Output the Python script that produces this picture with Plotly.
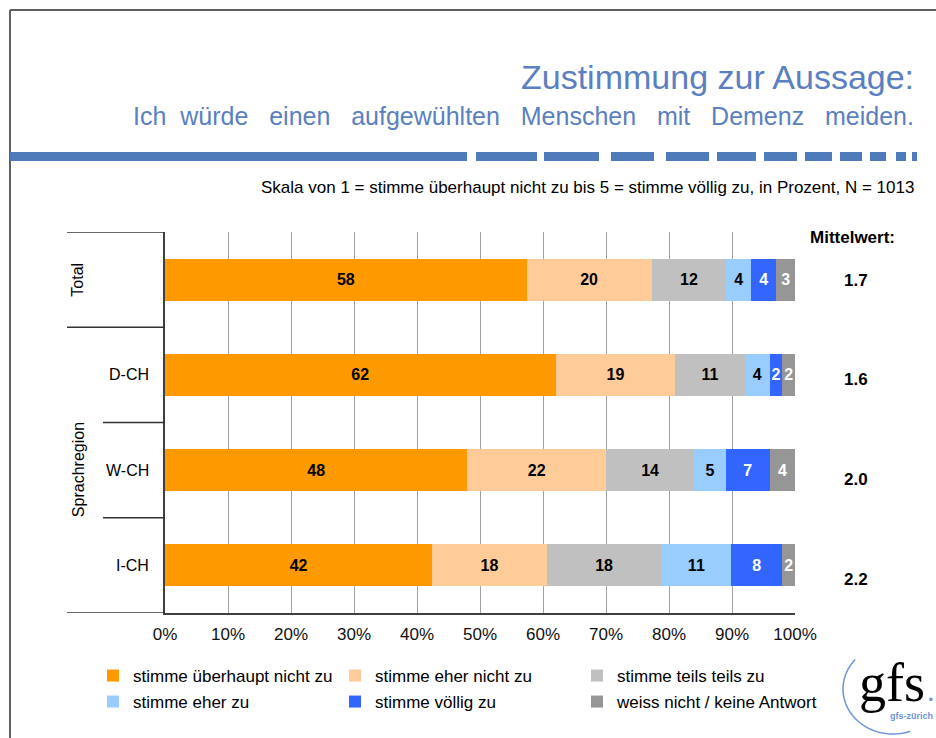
import math
import plotly.graph_objects as go

# ---------------- data ----------------
categories = ["Total", "D-CH", "W-CH", "I-CH"]
series_names = [
    "stimme überhaupt nicht zu",
    "stimme eher nicht zu",
    "stimme teils teils zu",
    "stimme eher zu",
    "stimme völlig zu",
    "weiss nicht / keine Antwort",
]
v_ueberhaupt_nicht = [58, 62, 48, 42]
v_eher_nicht = [20, 19, 22, 18]
v_teils_teils = [12, 11, 14, 18]
v_eher = [4, 4, 5, 11]
v_voellig = [4, 2, 7, 8]
v_weiss_nicht = [3, 2, 4, 2]
mittelwert = ["1.7", "1.6", "2.0", "2.2"]
x_tickvals = [0, 10, 20, 30, 40, 50, 60, 70, 80, 90, 100]
x_ticktext = ["0%", "10%", "20%", "30%", "40%", "50%", "60%", "70%", "80%", "90%", "100%"]

series_values = [v_ueberhaupt_nicht, v_eher_nicht, v_teils_teils, v_eher, v_voellig, v_weiss_nicht]
colors = ["#FF9900", "#FFCC99", "#C0C0C0", "#99CCFF", "#3366FF", "#969696"]
text_colors = ["#000000", "#000000", "#000000", "#000000", "#FFFFFF", "#FFFFFF"]
legend_ids = ["legend", "legend", "legend", "legend2", "legend2", "legend2"]

# ---------------- geometry helpers ----------------
W, H = 936, 738
L, R, T, B = 165, 795, 232, 613
FONT = "Liberation Sans, Arial, sans-serif"
BLUE_TXT = "#5b7fc1"
BLUE_LINE = "#4f7bba"


def px(x):
    return (x - L) / (R - L)


def py(y):
    return (B - y) / (B - T)


fig = go.Figure()
for name, vals, col, tcol, lg in zip(series_names, series_values, colors, text_colors, legend_ids):
    fig.add_trace(go.Bar(
        y=categories, x=vals, name=name, orientation="h",
        marker=dict(color=col, line=dict(width=0)),
        text=[str(v) for v in vals], textposition="inside", insidetextanchor="middle",
        textfont=dict(family=FONT, size=16, color=tcol, weight="bold"),
        width=0.44, legend=lg, hoverinfo="name+x",
    ))

shapes = []
# frame
shapes.append(dict(type="line", xref="paper", yref="paper", x0=px(10), x1=px(936), y0=py(10), y1=py(10),
                   line=dict(color="#606060", width=2)))
shapes.append(dict(type="line", xref="paper", yref="paper", x0=px(10), x1=px(10), y0=py(10), y1=py(738),
                   line=dict(color="#606060", width=2)))
# dashed rule under title
segments = [(10, 467), (476, 537), (544, 599), (611, 654), (666, 709), (717, 756), (764, 797),
            (805, 832), (840, 862), (870, 886), (896, 906), (912, 917)]
for a, b in segments:
    shapes.append(dict(type="rect", xref="paper", yref="paper", x0=px(a), x1=px(b), y0=py(152), y1=py(161),
                       fillcolor=BLUE_LINE, line=dict(width=0)))
# multi-level category separators
for yv, xs in [(-0.5, 67), (0.5, 67), (1.5, 103), (2.5, 103), (3.5, 67)]:
    shapes.append(dict(type="line", xref="paper", yref="y", x0=px(xs), x1=0, y0=yv, y1=yv,
                       line=dict(color="#333333", width=1.5)))
# logo arc
cx, cy, rx, ry = 893, 689, 50, 45
pts = []
for i in range(41):
    ang = math.radians(139 + (290 - 139) * i / 40)
    xx = cx + rx * math.cos(ang)
    yy = cy - ry * math.sin(ang)
    pts.append((px(xx), py(yy)))
path = "M " + " L ".join(f"{a:.5f},{b:.5f}" for a, b in pts)
shapes.append(dict(type="path", xref="paper", yref="paper", path=path,
                   line=dict(color="#6f94d8", width=1.5)))

annotations = []


def ann(text, x, y, size, color="#000000", xanchor="center", yanchor="middle", bold=False,
        xref="paper", yref="paper", angle=0, family=FONT, yshift=0):
    annotations.append(dict(text=text, x=x, y=y, xref=xref, yref=yref, showarrow=False,
                            xanchor=xanchor, yanchor=yanchor, textangle=angle, yshift=yshift,
                            font=dict(family=family, size=size, color=color,
                                      weight="bold" if bold else "normal")))


GAP = " " + "\u00a0" + "\u00a0"
subtitle_words = ["Ich", "würde", "einen", "aufgewühlten", "Menschen", "mit", "Demenz", "meiden."]
ann("Zustimmung zur Aussage:", px(916), py(77), 34, BLUE_TXT, xanchor="right")
ann(subtitle_words[0] + " " + "\u00a0" + GAP.join(subtitle_words[1:]), px(916), py(116), 25, BLUE_TXT,
    xanchor="right")
ann("Skala von 1 = stimme überhaupt nicht zu bis 5 = stimme völlig zu, in Prozent, N = 1013",
    px(916), py(187), 17, "#000000", xanchor="right")

# category labels
ann("Total", px(78), "Total", 16, yref="y", angle=-90)
ann("Sprachregion", px(78), 2.0, 16, yref="y", angle=-90)
for c in categories[1:]:
    ann(c, px(151), c, 16, xanchor="right", yref="y")

# Mittelwert column
ann("Mittelwert:", px(853), py(237), 17, bold=True)
mw_shift = [-1, -5, -9, -14]
for c, m, s in zip(categories, mittelwert, mw_shift):
    ann(m, px(856), c, 17, bold=True, yref="y", yshift=s)

# logo text
ann("gfs", px(892), py(683), 54, "#000000", family="Liberation Serif, Times New Roman, serif")
ann(".", px(931), py(690), 30, "#6f94d8", family="Liberation Serif, serif")
ann("gfs-zürich", px(911), py(716), 9, "#6f94d8", bold=True)

fig.update_layout(
    width=W, height=H,
    margin=dict(l=L, r=W - R, t=T, b=H - B, pad=0),
    paper_bgcolor="white", plot_bgcolor="white",
    barmode="stack", barnorm="percent",
    font=dict(family=FONT, size=16, color="#000000"),
    xaxis=dict(range=[0, 100], tickvals=x_tickvals, ticktext=x_ticktext, showgrid=True,
               gridcolor="#a0a0a0", gridwidth=1, showline=True, linecolor="#404040", linewidth=1.5,
               ticks="", zeroline=False, tickfont=dict(size=17, color="#111111"), fixedrange=True,
               ticklabelstandoff=5),
    yaxis=dict(categoryorder="array", categoryarray=categories, range=[3.5, -0.5], showgrid=False,
               showticklabels=False, showline=True, linecolor="#404040", linewidth=1.5, ticks="",
               zeroline=False, fixedrange=True),
    uniformtext=dict(minsize=16, mode="show"),
    legend=dict(orientation="h", x=px(93), y=py(676), xanchor="left", yanchor="middle",
                entrywidth=197, entrywidthmode="pixels", traceorder="normal",
                font=dict(size=17, color="#000000"), bgcolor="rgba(0,0,0,0)"),
    legend2=dict(orientation="h", x=px(93), y=py(702), xanchor="left", yanchor="middle",
                 entrywidth=197, entrywidthmode="pixels", traceorder="normal",
                 font=dict(size=17, color="#000000"), bgcolor="rgba(0,0,0,0)"),
    shapes=shapes,
    annotations=annotations,
    showlegend=True,
)

fig.write_html("out.html", post_script="document.body.style.margin='0';",
               config={"displayModeBar": False})
